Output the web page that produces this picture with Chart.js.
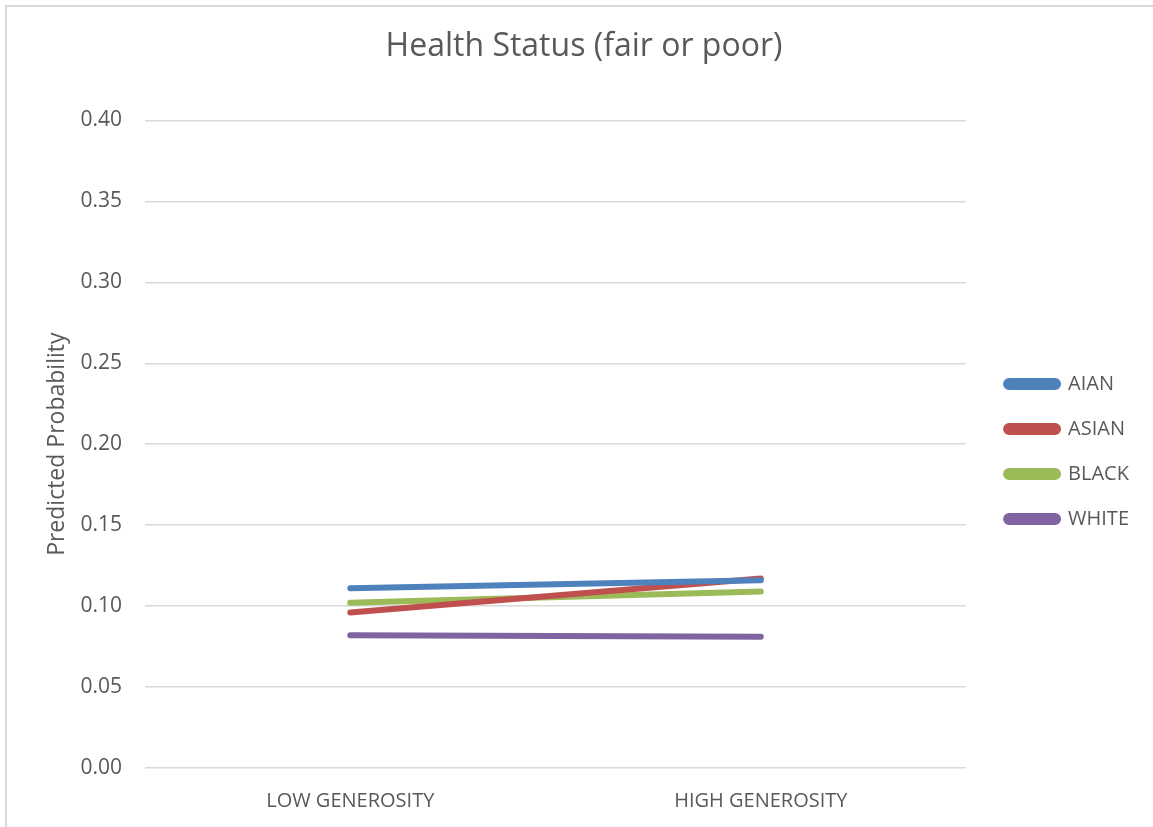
<!DOCTYPE html>
<html>
<head>
<meta charset="utf-8">
<script src="https://cdn.jsdelivr.net/npm/chart.js@4/dist/chart.umd.min.js"></script>
<style>
  body { margin: 0; background: #fff; }
  #wrap { position: relative; width: 1153px; height: 827px; }
  #frame { position: absolute; left: 5px; top: 5px; right: -5px; bottom: -5px;
           border-left: 2px solid #d9d9d9; border-top: 2px solid #d9d9d9; pointer-events: none; }
</style>
</head>
<body>
<div id="wrap">
  <canvas id="chart" width="1153" height="827"></canvas>
  <div id="frame"></div>
</div>
<script>
// chart data
const categories = ['LOW GENEROSITY', 'HIGH GENEROSITY'];
const seriesNames = ['AIAN', 'ASIAN', 'BLACK', 'WHITE'];
const aian = [0.111, 0.116];
const asian = [0.096, 0.117];
const black = [0.102, 0.109];
const white = [0.082, 0.081];
const yTicks = [0.00, 0.05, 0.10, 0.15, 0.20, 0.25, 0.30, 0.35, 0.40];

const colors = ['#4f81bd', '#c0504d', '#9bbb59', '#8064a2'];
const textColor = '#595959';
const fontFamily = '"Open Sans", "Liberation Sans", sans-serif';

const values = [aian, asian, black, white];
const datasets = seriesNames.map((name, i) => ({
    label: name,
    data: values[i],
    borderColor: colors[i],
    backgroundColor: colors[i],
    borderWidth: 6,
    borderCapStyle: 'round',
    pointRadius: 0,
    tension: 0
}));

// nudge legend and title a bit, like the office chart does
const boxShift = {
    id: 'boxShift',
    afterLayout(chart) {
        const lg = chart.legend;
        lg.left += 15; lg.right += 15;
        lg.top += 38; lg.bottom += 38;
        const tt = chart.titleBlock;
        tt.left += 22; tt.right += 22;
    }
};

new Chart(document.getElementById('chart').getContext('2d'), {
    type: 'line',
    data: { labels: categories, datasets },
    plugins: [boxShift],
    options: {
        responsive: false,
        animation: false,
        layout: { padding: { left: 0, right: 29, top: 0, bottom: 0 } },
        plugins: {
            title: {
                display: true,
                text: 'Health Status (fair or poor)',
                color: textColor,
                font: { family: fontFamily, size: 32, weight: 'normal' },
                padding: { top: 28, bottom: 54 }
            },
            legend: {
                position: 'right',
                labels: {
                    color: textColor,
                    font: { family: fontFamily, size: 20 },
                    boxWidth: 52,
                    boxHeight: 6,
                    padding: 25,
                    useBorderRadius: true,
                    borderRadius: 3
                }
            },
            tooltip: { enabled: false }
        },
        scales: {
            x: {
                offset: true,
                grid: { display: false, drawTicks: false },
                border: { display: false },
                afterFit: (scale) => { scale.height = 59; },
                ticks: {
                    color: textColor,
                    font: { family: fontFamily, size: 20 },
                    padding: 21
                }
            },
            y: {
                min: 0,
                max: 0.4,
                afterBuildTicks: (scale) => { scale.ticks = yTicks.map(v => ({ value: v })); },
                afterFit: (scale) => { scale.width = 145; },
                grid: { color: '#d9d9d9', lineWidth: 1.5, drawTicks: false },
                border: { display: false },
                ticks: {
                    color: textColor,
                    font: { family: fontFamily, size: 21 },
                    padding: 23,
                    callback: (v) => v.toFixed(2)
                },
                title: {
                    display: true,
                    text: 'Predicted Probability',
                    color: textColor,
                    font: { family: fontFamily, size: 23 },
                    padding: { top: 44, bottom: 0 }
                }
            }
        }
    }
});
</script>
</body>
</html>
